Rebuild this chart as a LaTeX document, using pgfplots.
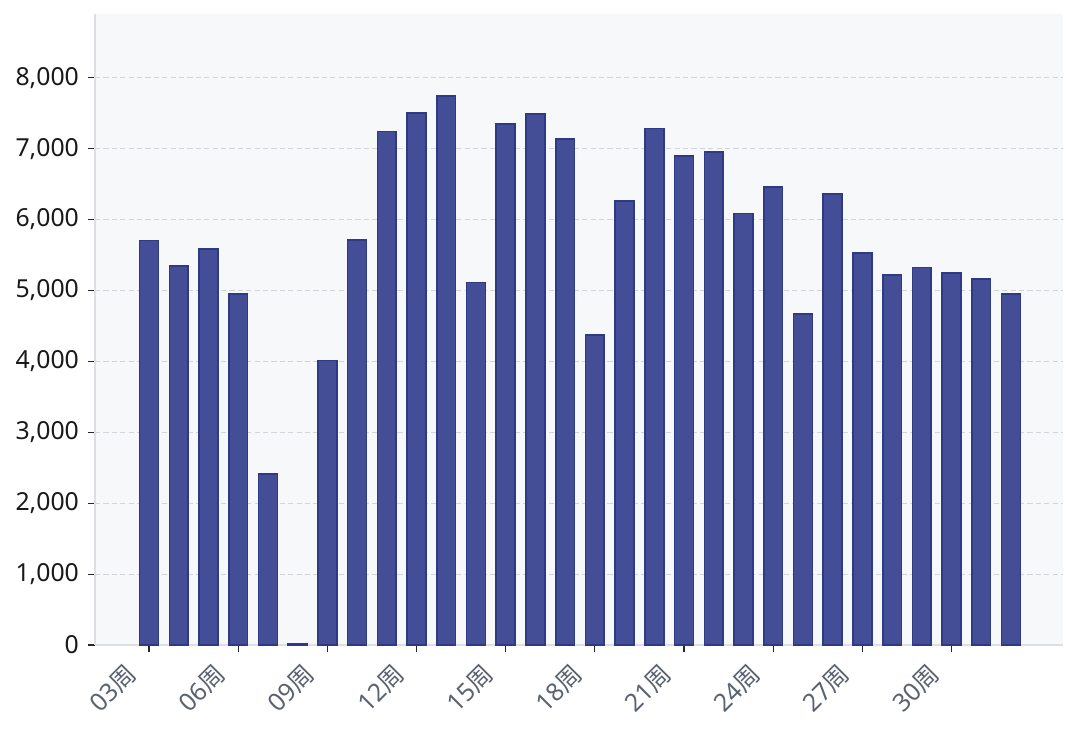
\documentclass[border=0pt]{standalone}
\usepackage{fontspec}
\setmainfont{Noto Sans}
\newfontfamily\cjk{Noto Sans CJK SC}
\usepackage{pgfplots}
\pgfplotsset{compat=1.18}
\usepackage{pgfplotstable}
\definecolor{bgc}{HTML}{F6F8FA}
\definecolor{gridc}{HTML}{D0D3D8}
\definecolor{spinec}{HTML}{DCDFE3}
\definecolor{barfill}{HTML}{444E96}
\definecolor{baredge}{HTML}{2F3A86}
\definecolor{xlab}{HTML}{5A6270}
\pgfplotstableread{
x y
0 5707
1 5349
2 5585
3 4953
4 2410
5 20
6 4010
7 5714
8 7240
9 7500
10 7745
11 5113
12 7350
13 7490
14 7141
15 4369
16 6264
17 7287
18 6895
19 6950
20 6085
21 6457
22 4666
23 6363
24 5529
25 5222
26 5326
27 5246
28 5161
29 4949
}\datatable
\begin{document}
\begin{tikzpicture}
\path[use as bounding box] (-47.5pt,-44.5pt) rectangle (492.5pt,322.5pt);
\begin{axis}[
  at={(0,0)}, anchor=south west,
  scale only axis,
  width=484pt, height=315.5pt,
  xmin=-1.817, xmax=30.75,
  ymin=0, ymax=8900,
  axis background/.style={fill=bgc},
  axis x line*=bottom, axis y line*=left,
  axis line style={draw=spinec, line width=0.6pt, -},
  xtick={0,3,6,9,12,15,18,21,24,27},
  xticklabels={03{\cjk 周},06{\cjk 周},09{\cjk 周},12{\cjk 周},15{\cjk 周},18{\cjk 周},21{\cjk 周},24{\cjk 周},27{\cjk 周},30{\cjk 周}},
  ytick={0,1000,...,8000},
  tick align=outside,
  major tick length=3.5pt,
  tick style={draw=black!85, line width=0.6pt},
  /pgf/number format/assume math mode=true,
  /pgf/number format/1000 sep={,},
  scaled y ticks=false,
  yticklabel style={font=\fontsize{12.4}{14}\selectfont, text=black!90, xshift=-1pt},
  xticklabel style={font=\fontsize{12.4}{14}\selectfont, text=xlab, rotate=45, anchor=north east, inner sep=0pt, yshift=5.5pt, xshift=-12pt},
  ymajorgrids,
  major grid style={draw=gridc, dash pattern=on 2.6pt off 1.6pt, line width=0.5pt},
]
\addplot[ybar, bar width=9.4pt, fill=barfill, draw=baredge, line width=0.8pt] table[x=x,y=y] {\datatable};
\end{axis}
\end{tikzpicture}
\end{document}
